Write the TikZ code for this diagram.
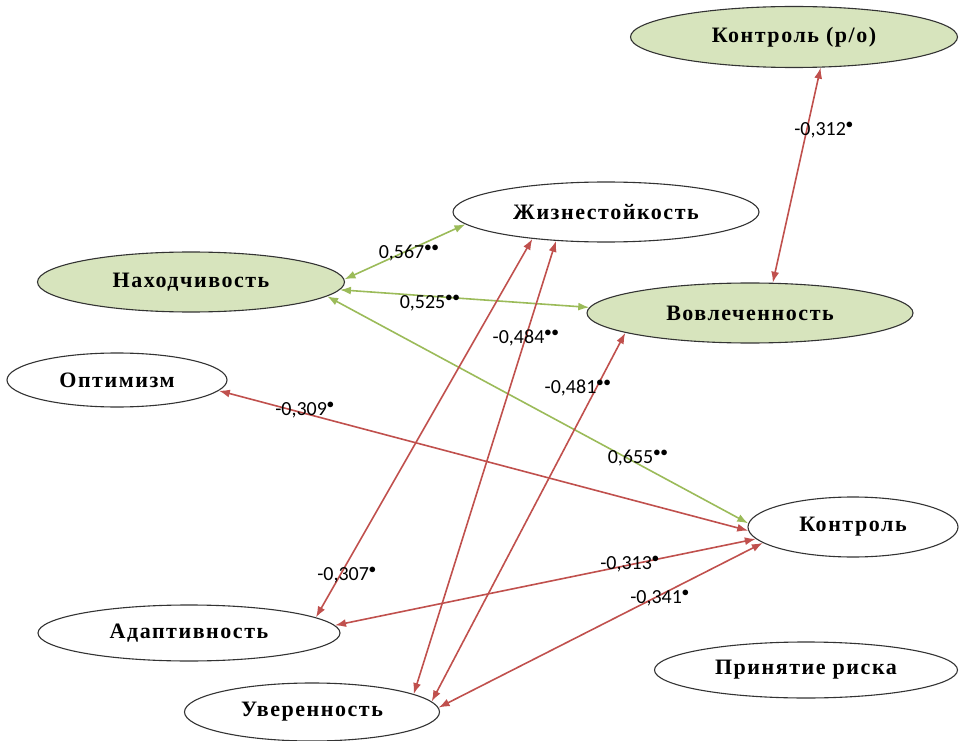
\documentclass[tikz,border=0pt]{standalone}
\usepackage{fontspec}
\setmainfont{Liberation Serif}
\newfontfamily\nodefont[LetterSpace=7]{Liberation Serif}
\newfontfamily\numfont{Carlito}
\usetikzlibrary{shapes.geometric,arrows.meta}
\definecolor{olivefill}{RGB}{215,228,189}
\definecolor{arrowred}{RGB}{192,80,77}
\definecolor{arrowgreen}{RGB}{155,187,89}

\begin{document}
\begin{tikzpicture}[x=1pt,y=-1pt,
    factor/.style={ellipse,draw=black!80,line width=1.1pt,inner sep=0pt,
      font=\nodefont\bfseries\fontsize{22}{26}\selectfont},
    hifactor/.style={factor,fill=olivefill},
    corr/.style={line width=1.6pt,{Latex[length=11pt,width=8pt]}-{Latex[length=11pt,width=8pt]}},
    neglink/.style={corr,arrowred},
    poslink/.style={corr,arrowgreen},
    coef/.style={font=\numfont\fontsize{20}{24}\selectfont,inner sep=0pt}]
  \useasboundingbox (0,0) rectangle (962,741);
  %Factors
  \node[hifactor,minimum width=327,minimum height=61] (kontro) at (794,37) {Контроль (р/о)};
  \node[factor,minimum width=306,minimum height=60] (zhiz) at (606,212) {Жизнестойкость};
  \node[hifactor,minimum width=307,minimum height=60] (nakh) at (191,282) {Находчивость};
  \node[hifactor,minimum width=326,minimum height=60] (vovl) at (750,313) {Вовлеченность};
  \node[factor,minimum width=220,minimum height=54] (optim) at (117,380) {Оптимизм};
  \node[factor,minimum width=210,minimum height=60] (kontr) at (853,527) {Контроль};
  \node[factor,minimum width=302,minimum height=56] (adapt) at (189,633) {Адаптивность};
  \node[factor,minimum width=255,minimum height=58] (uver) at (312,712) {Уверенность};
  \node[factor,minimum width=303,minimum height=56] (prin) at (806,670) {Принятие риска};
  %Positive links
  \draw[poslink] (nakh.1) -- (zhiz.185);
  \draw[poslink] (nakh.-3) -- (vovl.178);
  \draw[poslink] (nakh.-6) -- (kontr.178);
  %Negative links
  \draw[neglink] (kontro.-49) -- (vovl.53);
  \draw[neglink] (optim.-6) -- (kontr.182);
  \draw[neglink] (zhiz.200) -- (adapt.7);
  \draw[neglink] (zhiz.210) -- (uver.10);
  \draw[neglink] (vovl.189) -- (uver.5);
  \draw[neglink] (kontr.187) -- (adapt.3);
  \draw[neglink] (kontr.190) -- (uver.2);
  %Coefficients
  \node[coef] (c1) at (409,253) {0,567$^{\bullet\bullet}$};
  \node[coef] (c2) at (430,303) {0,525$^{\bullet\bullet}$};
  \node[coef] (c3) at (638,458) {0,655$^{\bullet\bullet}$};
  \node[coef] (c4) at (824,130) {-0,312$^{\bullet}$};
  \node[coef] (c5) at (305,410) {-0,309$^{\bullet}$};
  \node[coef] (c6) at (347,575) {-0,307$^{\bullet}$};
  \node[coef] (c7) at (526,338) {-0,484$^{\bullet\bullet}$};
  \node[coef] (c8) at (578,388) {-0,481$^{\bullet\bullet}$};
  \node[coef] (c9) at (630,564) {-0,313$^{\bullet}$};
  \node[coef] (c10) at (660,598) {-0,341$^{\bullet}$};
\end{tikzpicture}
\end{document}
